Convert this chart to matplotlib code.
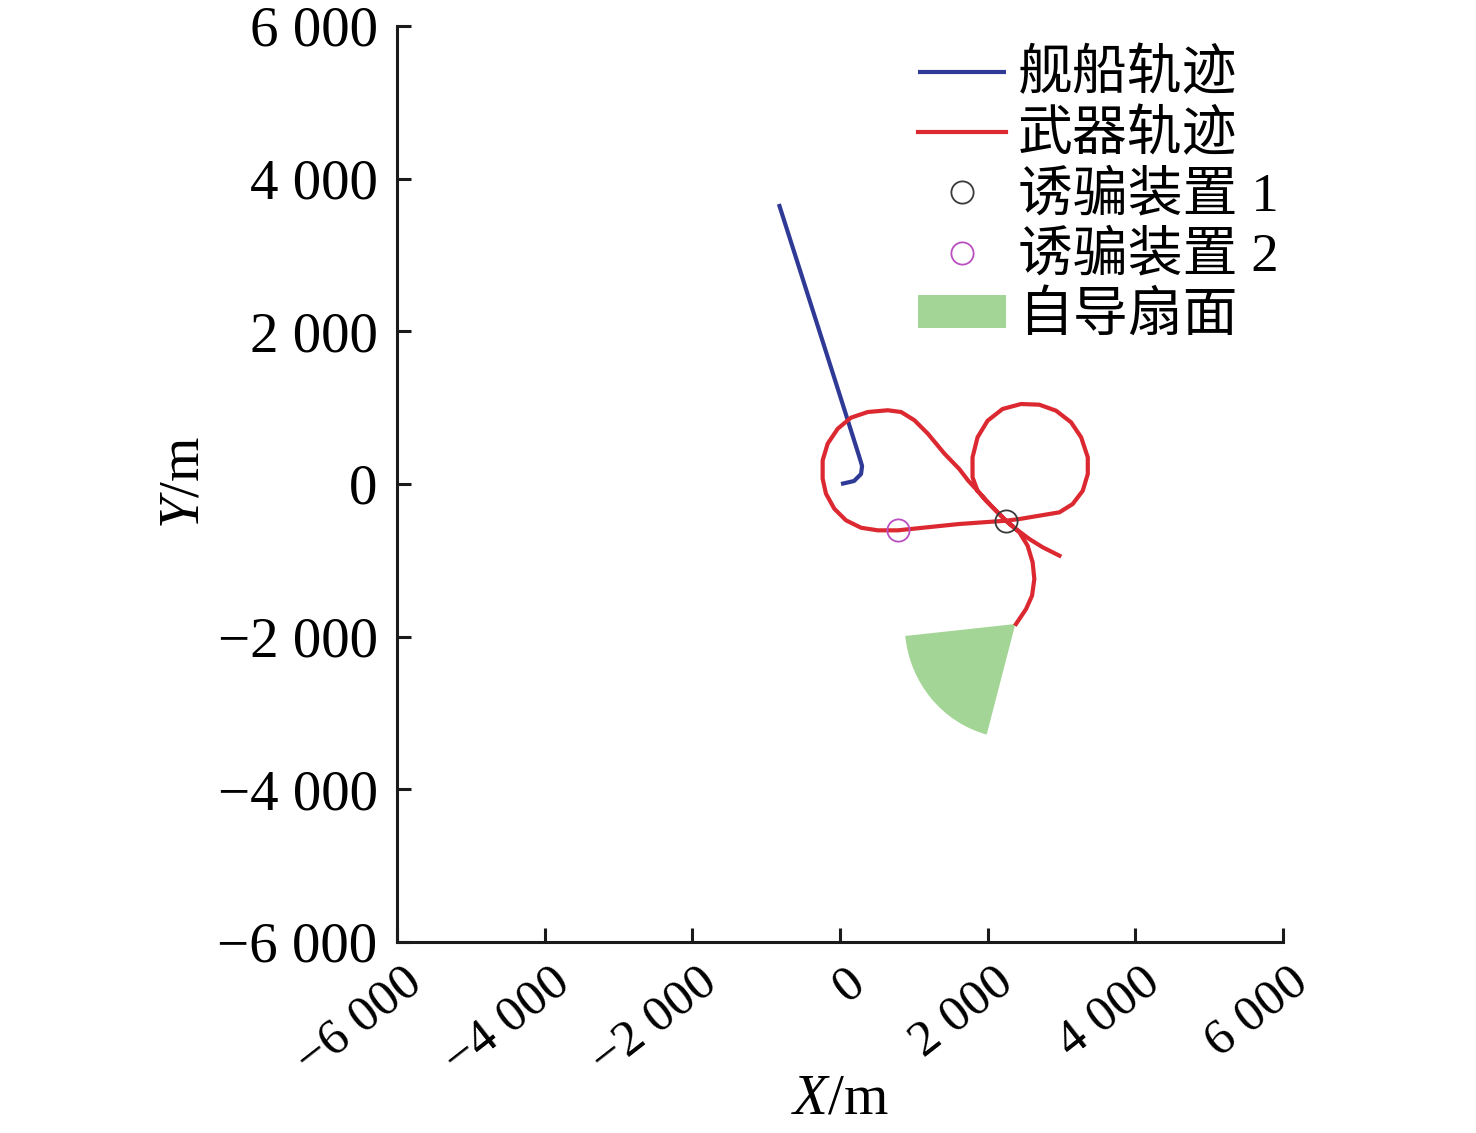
import matplotlib
matplotlib.use("Agg")
import matplotlib.pyplot as plt
from matplotlib.patches import Wedge
from matplotlib.transforms import ScaledTranslation

plt.rcParams['font.family'] = ['Liberation Serif', 'Noto Sans CJK SC', 'DejaVu Sans']
plt.rcParams['mathtext.fontset'] = 'custom'
plt.rcParams['mathtext.rm'] = 'Liberation Serif'
plt.rcParams['mathtext.it'] = 'Liberation Serif:italic'

# ---------------- data ----------------
ship_x = [-828, 14, 258, 299, 285, 190, 14]
ship_y = [3668, 1114, 367, 236, 131, 39, 0]

weapon_x = [2972, 2745, 2565, 2384, 2248, 2067, 1733, 1615, 1415, 1190, 1008, 828, 647,
            376, 149, -31, -167, -235, -235, -190, -77, 81, 285, 512, 783, 1615, 2248,
            2429, 2700, 2972, 3152, 3288, 3356, 3356, 3266, 3130, 2927, 2700, 2452, 2202,
            1999, 1863, 1795, 1795, 1863, 1977, 2113, 2248, 2429, 2541, 2609, 2632, 2601,
            2520, 2384]
weapon_y = [-939, -829, -721, -590, -481, -305, 48, 197, 397, 659, 835, 943, 966,
            943, 869, 724, 528, 310, 69, -127, -324, -476, -573, -607, -607, -524, -481,
            -459, -415, -371, -262, -88, 131, 350, 612, 808, 960, 1039, 1048, 983,
            829, 612, 350, 88, -88, -219, -350, -481, -633, -808, -1026, -1245, -1463,
            -1638, -1834]

decoy1 = (2252, -485)
decoy2 = (787, -603)

sector_center = (2375, -1834)
sector_radius = 1500
sector_theta = (186, 255)

ticks = [-6000, -4000, -2000, 0, 2000, 4000, 6000]
tick_labels = ['\u22126 000', '\u22124 000', '\u22122 000', '0', '2 000', '4 000', '6 000']

labels = ['舰船轨迹', '武器轨迹', '诱骗装置 1', '诱骗装置 2', '自导扇面']

# ---------------- figure ----------------
fig = plt.figure(figsize=(14.76, 11.33), dpi=100)
ax = fig.add_axes([397/1476, 1-942/1133, (1283-397)/1476, (942-26)/1133])

l1, = ax.plot(ship_x, ship_y, color='#2f3a96', lw=3, solid_capstyle='butt',
              solid_joinstyle='round', label=labels[0])
l2, = ax.plot(weapon_x, weapon_y, color='#dc2830', lw=3, solid_joinstyle='round', label=labels[1])
m1, = ax.plot([decoy1[0]], [decoy1[1]], 'o', ms=16, mfc='none', mec='#3a3a3a', mew=1.3, label=labels[2])
m2, = ax.plot([decoy2[0]], [decoy2[1]], 'o', ms=16, mfc='none', mec='#b94fc0', mew=1.3, label=labels[3])
w = Wedge(sector_center, sector_radius, sector_theta[0], sector_theta[1],
          facecolor='#a3d696', edgecolor='none', label=labels[4])
ax.add_patch(w)

ax.set_xlim(-6000, 6000)
ax.set_ylim(-6000, 6000)
for s in ['top', 'right']:
    ax.spines[s].set_visible(False)
for s in ['left', 'bottom']:
    ax.spines[s].set_linewidth(2.2)
    ax.spines[s].set_color('#1a1a1a')

ax.set_xticks(ticks)
ax.set_yticks(ticks)
ax.set_yticklabels(tick_labels)
ax.set_xticklabels(tick_labels, rotation=38, ha='right', va='top', rotation_mode='anchor', fontsize=37)
ax.tick_params(axis='both', direction='in', length=10, width=2.2, color='#1a1a1a')
ax.tick_params(axis='y', labelsize=41, pad=14)
ax.tick_params(axis='x', pad=12)
for lab in ax.get_xticklabels():
    lab.set_transform(lab.get_transform() + ScaledTranslation(0.05, 0, fig.dpi_scale_trans))

fig.text(840/1476, 1-1100/1133, r'$\mathit{X}$/m', fontsize=41, ha='center', va='center')
fig.text(185/1476, 1-482/1133, r'$\mathit{Y}$/m', fontsize=41, ha='center', va='center', rotation=90)

leg = ax.legend(handles=[l1, l2, m1, m2, w], loc='upper left',
                bbox_to_anchor=(918/1476, 1-50/1133), bbox_transform=fig.transFigure,
                frameon=False, fontsize=39.5, handlelength=1.6, handletextpad=0.22,
                labelspacing=0.17, borderpad=0, borderaxespad=0, handleheight=0.55)

fig.savefig('out.png', dpi=100)
